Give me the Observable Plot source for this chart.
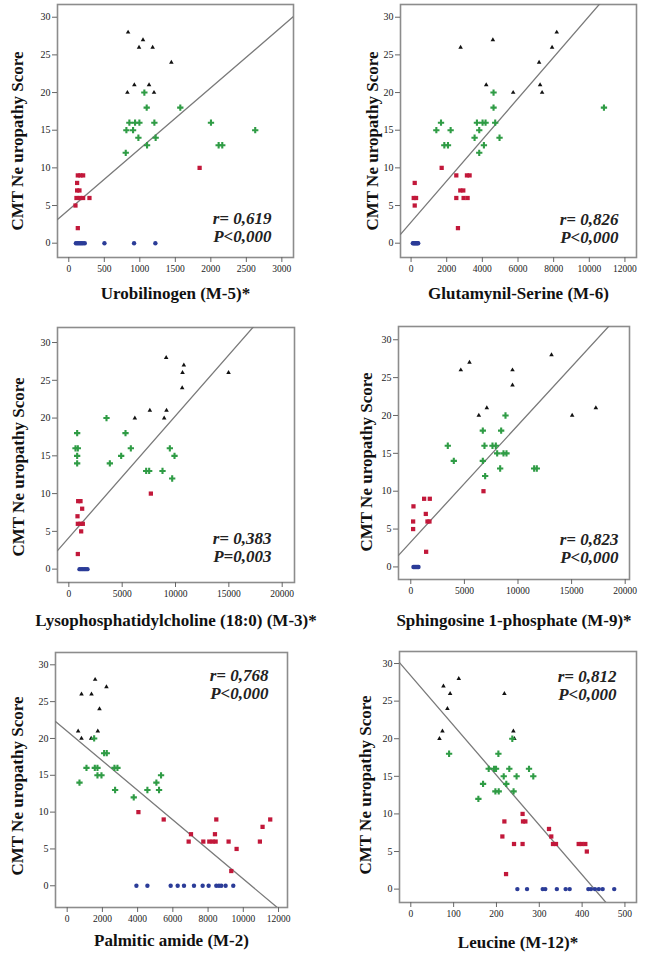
<!DOCTYPE html>
<html><head><meta charset="utf-8">
<script src="https://cdn.jsdelivr.net/npm/d3@7"></script>
<script src="https://cdn.jsdelivr.net/npm/@observablehq/plot@0.6"></script>
<style>
body{margin:0;background:#fff;}
#wrap{position:relative;width:646px;height:953px;overflow:hidden;}
.panel{position:absolute;}
.panel svg, .panel svg text{font-family:"Liberation Serif","Times New Roman",serif !important;}
</style></head><body><div id="wrap"></div>
<script>
// ---------- data ----------
const uroBlack = [[835,28],[1045,27],[989,26],[1181,26],[1444,24],[923,21],[1130,21],[825,20],[1200,20]];
const uroGreen = [[1064,20],[1097,18],[1570,18],[853,16],[933,16],[994,16],[1205,16],[2002,16],[811,15],[905,15],[2625,15],[980,14],[1223,14],[1102,13],[2110,13],[2161,13],[802,12]];
const uroRed = [[127,9],[164,9],[202,9],[117,8],[117,7],[150,7],[108,6],[155,6],[202,6],[291,6],[94,5],[127,2],[1842,10]];
const uroBlue = [[100,0],[120,0],[140,0],[160,0],[180,0],[200,0],[225,0],[502,0],[919,0],[1219,0]];

const gluBlack = [[2780,26],[4590,27],[4217,21],[5729,20],[7184,24],[7240,21],[7352,20],[7912,26],[8173,28]];
const gluGreen = [[1418,15],[1680,16],[1866,13],[2071,13],[2220,15],[3564,14],[3695,16],[3825,15],[3825,12],[4012,16],[4180,16],[4087,13],[4628,20],[4628,18],[4721,16],[4964,14],[10823,18]];
const gluRed = [[205,8],[149,6],[280,6],[205,5],[1717,10],[2538,9],[3135,9],[3284,9],[2762,7],[2930,7],[2538,6],[2948,6],[3172,6],[2631,2]];
const gluBlue = [[100,0],[150,0],[200,0],[250,0],[300,0],[350,0],[400,0]];

const lysoBlack = [[9125,28],[10781,27],[10656,26],[14969,26],[10625,24],[7594,21],[9156,21],[6188,20],[8938,20]];
const lysoGreen = [[781,18],[625,16],[844,16],[781,15],[781,14],[3531,20],[3844,14],[5313,18],[4906,15],[5813,16],[7250,13],[7531,13],[8781,13],[9469,16],[9906,15],[9688,12]];
const lysoRed = [[875,9],[1094,9],[1250,8],[813,7],[844,6],[1094,6],[1313,6],[1156,5],[844,2],[7688,10]];
const lysoBlue = [[1000,0],[1150,0],[1300,0],[1450,0],[1600,0],[1750,0]];

const sphBlack = [[4665,26],[5474,27],[6345,20],[7092,21],[9486,26],[9486,24],[13125,28],[15054,20],[17262,21]];
const sphGreen = [[3452,16],[4012,14],[6718,18],[6718,14],[6874,16],[6936,12],[7620,16],[7931,16],[8056,15],[8336,13],[8429,18],[8647,15],[8927,15],[8833,20],[11507,13],[11756,13]];
const sphRed = [[249,8],[218,6],[218,5],[1244,9],[1773,9],[1400,7],[1555,6],[1742,6],[1431,2],[6780,10]];
const sphBlue = [[250,0],[350,0],[450,0],[550,0],[650,0],[720,0]];

const palmBlack = [[624,21],[813,20],[813,26],[1380,26],[1588,28],[1834,24],[1739,21],[1361,20],[2230,27]];
const palmGreen = [[699,14],[1096,16],[1531,20],[1569,16],[1720,16],[1720,15],[1947,15],[2098,18],[2249,18],[2684,16],[2854,16],[2721,13],[3780,12],[4555,13],[5065,14],[5216,13],[5330,15]];
const palmRed = [[4045,10],[5481,9],[6898,6],[7030,7],[7730,6],[8070,6],[8259,6],[8429,6],[8391,7],[8467,9],[9166,6],[9620,5],[9318,2],[10943,6],[11094,8],[11529,9]];
const palmBlue = [[3931,0],[4555,0],[5877,0],[6274,0],[6633,0],[7200,0],[7692,0],[8032,0],[8467,0],[8618,0],[8750,0],[8996,0],[9431,0]];

const leuBlack = [[66.9,20],[73.9,21],[76.2,27],[85.5,24],[91.8,26],[112,28],[218.5,26],[239.5,21],[241.8,20]];
const leuGreen = [[89.4,18],[157.8,12],[168.7,14],[181.9,16],[194.4,16],[199,16],[197.5,13],[205.3,13],[204.5,18],[217,15],[223,14],[230,16],[240,13],[237,20],[247,15],[276,16],[286,15]];
const leuRed = [[213.8,7],[218.5,9],[222.4,2],[241,6],[261,10],[262,9],[267.5,9],[261,6],[322.7,8],[328,7],[332,6],[339,6],[392,6],[399,6],[407.5,6],[411,5]];
const leuBlue = [[248.8,0],[271.4,0],[308,0],[314,0],[341,0],[361.6,0],[371,0],[414.5,0],[420.7,0],[430,0],[439,0],[448,0],[475,0]];

const xTitles = ["Urobilinogen (M-5)*", "Glutamynil-Serine (M-6)", "Lysophosphatidylcholine (18:0) (M-3)*", "Sphingosine 1-phosphate (M-9)*", "Palmitic amide (M-2)", "Leucine (M-12)*"];
const yTitle = "CMT Ne uropathy Score";
const rValues = ["0,619", "0,826", "0,383", "0,823", "0,768", "0,812"];
const pValues = ["P<0,000", "P<0,000", "P=0,003", "P<0,000", "P<0,000", "P<0,000"];
const fitIntercept = [4.43, 2.80, 4.17, 3.30, 20.98, 28.38];
const fitSlope = [0.00811, 0.002737, 0.001613, 0.001542, -0.002006, -0.06617];
const yTicks = [0, 5, 10, 15, 20, 25, 30];
const xTicks = [
  [0, 500, 1000, 1500, 2000, 2500, 3000],
  [0, 2000, 4000, 6000, 8000, 10000, 12000],
  [0, 5000, 10000, 15000, 20000],
  [0, 5000, 10000, 15000, 20000],
  [0, 2000, 4000, 6000, 8000, 10000, 12000],
  [0, 100, 200, 300, 400, 500]
];
const panelData = [
  [uroBlack, uroGreen, uroRed, uroBlue],
  [gluBlack, gluGreen, gluRed, gluBlue],
  [lysoBlack, lysoGreen, lysoRed, lysoBlue],
  [sphBlack, sphGreen, sphRed, sphBlue],
  [palmBlack, palmGreen, palmRed, palmBlue],
  [leuBlack, leuGreen, leuRed, leuBlue]
];

// ---------- styling / layout ----------
const FONT = "Liberation Serif";
const groupStyle = [
  {symbol: "triangle", fill: "#111111", r: 1.7},
  {symbol: "cross", fill: "#2f9c45", r: 2.65},
  {symbol: "square", fill: "#c2183a", r: 2.4},
  {symbol: "circle", fill: "#2b3c98", r: 2.2}
];
const layout = [
  {left: 0, top: 0, h: 310, ml: 57, mr: 30, mt: 4, mb: 53, xd: [-159, 3164], yd: [-1.9, 31.69], ylx: -40, yly: 10, xty: 36, sa: "bottom-right", sdx: -22, sdy: -30.5},
  {left: 323, top: 0, h: 310, ml: 77, mr: 10, mt: 4, mb: 53, xd: [-593, 12649], yd: [-1.9, 31.69], ylx: -28, yly: 10, xty: 36, sa: "bottom-right", sdx: -18, sdy: -29.5},
  {left: 0, top: 315, h: 320, ml: 57, mr: 29, mt: 12, mb: 53, xd: [-1062, 21153], yd: [-1.77, 31.99], ylx: -39, yly: 12, xty: 38, sa: "bottom-right", sdx: -23, sdy: -35},
  {left: 323, top: 315, h: 320, ml: 75, mr: 17, mt: 11, mb: 56, xd: [-1147, 20401], yd: [-1.66, 31.75], ylx: -32, yly: 9, xty: 41, sa: "bottom-right", sdx: -11, sdy: -31},
  {left: 0, top: 635, h: 318, ml: 55, mr: 36, mt: 17, mb: 46, xd: [-663, 12510], yd: [-2.95, 31.67], ylx: -38, yly: 6, xty: 33, sa: "top-right", sdx: -19, sdy: 32},
  {left: 323, top: 635, h: 318, ml: 76, mr: 10, mt: 16, mb: 51, xd: [-26.4, 527], yd: [-1.78, 31.6], ylx: -34, yly: 8, xty: 40, sa: "top-right", sdx: -20, sdy: 34}
];

const wrap = document.getElementById("wrap");
layout.forEach((L, i) => {
  const fitLine = L.xd.map(x => ({x, y: fitIntercept[i] + fitSlope[i] * x}));
  const marks = [
    Plot.frame({stroke: "#8c8c8c", strokeWidth: 1.6}),
    Plot.axisY({ticks: yTicks, tickSize: 5, tickPadding: 2, fontSize: 10, fontFamily: FONT, label: null, stroke: "#666", fill: "#222"}),
    Plot.axisX({ticks: xTicks[i], tickSize: 5, tickPadding: 3, fontSize: 9.5, fontFamily: FONT, label: null, tickFormat: d3.format("d"), stroke: "#666", fill: "#222"}),
    Plot.line(fitLine, {x: "x", y: "y", stroke: "#7a7a7a", strokeWidth: 1.3, clip: true})
  ];
  panelData[i].forEach((pts, k) => {
    const g = groupStyle[k];
    marks.push(Plot.dot(pts, {x: d => d[0], y: d => d[1], symbol: g.symbol, fill: g.fill, r: g.r, stroke: "none"}));
  });
  marks.push(Plot.text([yTitle], {text: d => d, frameAnchor: "left", rotate: -90, dx: L.ylx, dy: L.yly, lineAnchor: "middle", textAnchor: "middle", fontSize: 17, fontWeight: "bold", fontFamily: FONT, fill: "#111"}));
  marks.push(Plot.text([xTitles[i]], {text: d => d, frameAnchor: "bottom", dy: L.xty, lineAnchor: "middle", textAnchor: "middle", fontSize: 17, fontWeight: "bold", fontFamily: FONT, fill: "#111"}));
  marks.push(Plot.text([`r= ${rValues[i]}\n${pValues[i]}`], {text: d => d, frameAnchor: L.sa, dx: L.sdx, dy: L.sdy, lineAnchor: "middle", textAnchor: "end", fontSize: 17, fontWeight: "bold", fontStyle: "italic", fontFamily: FONT, fill: "#222", lineHeight: 1.05}));
  const chart = Plot.plot({
    width: 323, height: L.h,
    marginLeft: L.ml, marginRight: L.mr, marginTop: L.mt, marginBottom: L.mb,
    x: {domain: L.xd, label: null},
    y: {domain: L.yd, label: null},
    style: {background: "#fff", overflow: "visible"},
    marks
  });
  const div = document.createElement("div");
  div.className = "panel";
  div.style.left = L.left + "px";
  div.style.top = L.top + "px";
  div.appendChild(chart);
  wrap.appendChild(div);
});
</script>
</body></html>
